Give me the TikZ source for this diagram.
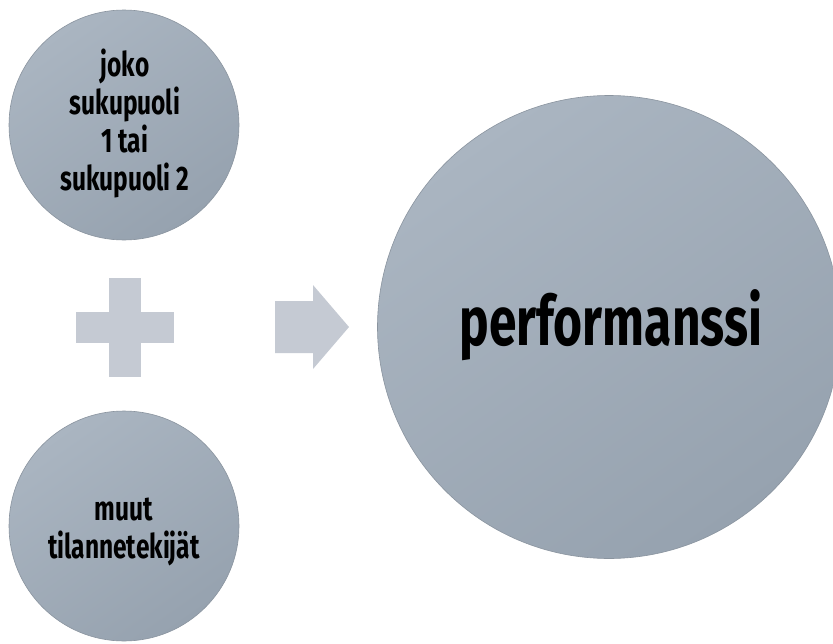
\documentclass[tikz,border=0pt]{standalone}
\usepackage{fontspec}
\setmainfont{Fira Sans}[FakeStretch=0.72]
\definecolor{circA}{HTML}{AAB5C1}
\definecolor{circB}{HTML}{96A2AF}
\definecolor{circEdge}{HTML}{8A949F}
\definecolor{symFill}{HTML}{C5CAD3}
\tikzset{
  bubble/.style={circle, inner sep=0pt, draw=circEdge, line width=0.6pt,
    top color=circA, bottom color=circB, shading angle=35},
  smalltxt/.style={align=center, font=\fontsize{34}{38}\selectfont\bfseries, text=black},
  bigtxt/.style={font=\fontsize{69}{74}\selectfont\bfseries, text=black},
  sym/.style={fill=symFill, draw=none}
}
\begin{document}
\begin{tikzpicture}[x=1pt,y=-1pt]
\useasboundingbox (0,0) rectangle (833,643);
\fill[white] (0,0) rectangle (833,643);
% circles
\node[bubble, minimum size=230pt] (c1) at (124,125) {};
\node[bubble, minimum size=230pt] (c2) at (124,526) {};
\node[bubble, minimum size=463pt] (c3) at (609,327) {};
% texts
\node[smalltxt, anchor=base] (t1) at (125,190) {joko\\sukupuoli\\1 tai\\sukupuoli 2};
\node[smalltxt, anchor=base] (t2) at (124,558) {muut\\tilannetekijät};
\node[bigtxt, anchor=base] (t3) at (611,345) {performanssi};
% plus sign
\node[sym, minimum width=32pt, minimum height=99pt, inner sep=0pt] (pv) at (125,327.5) {};
\node[sym, minimum width=98pt, minimum height=31pt, inner sep=0pt] (ph) at (125,327.5) {};
% arrow
\fill[symFill] (275,301) -- (313,301) -- (313,285) -- (349,327) -- (313,369) -- (313,353) -- (275,353) -- cycle;
\end{tikzpicture}
\end{document}
